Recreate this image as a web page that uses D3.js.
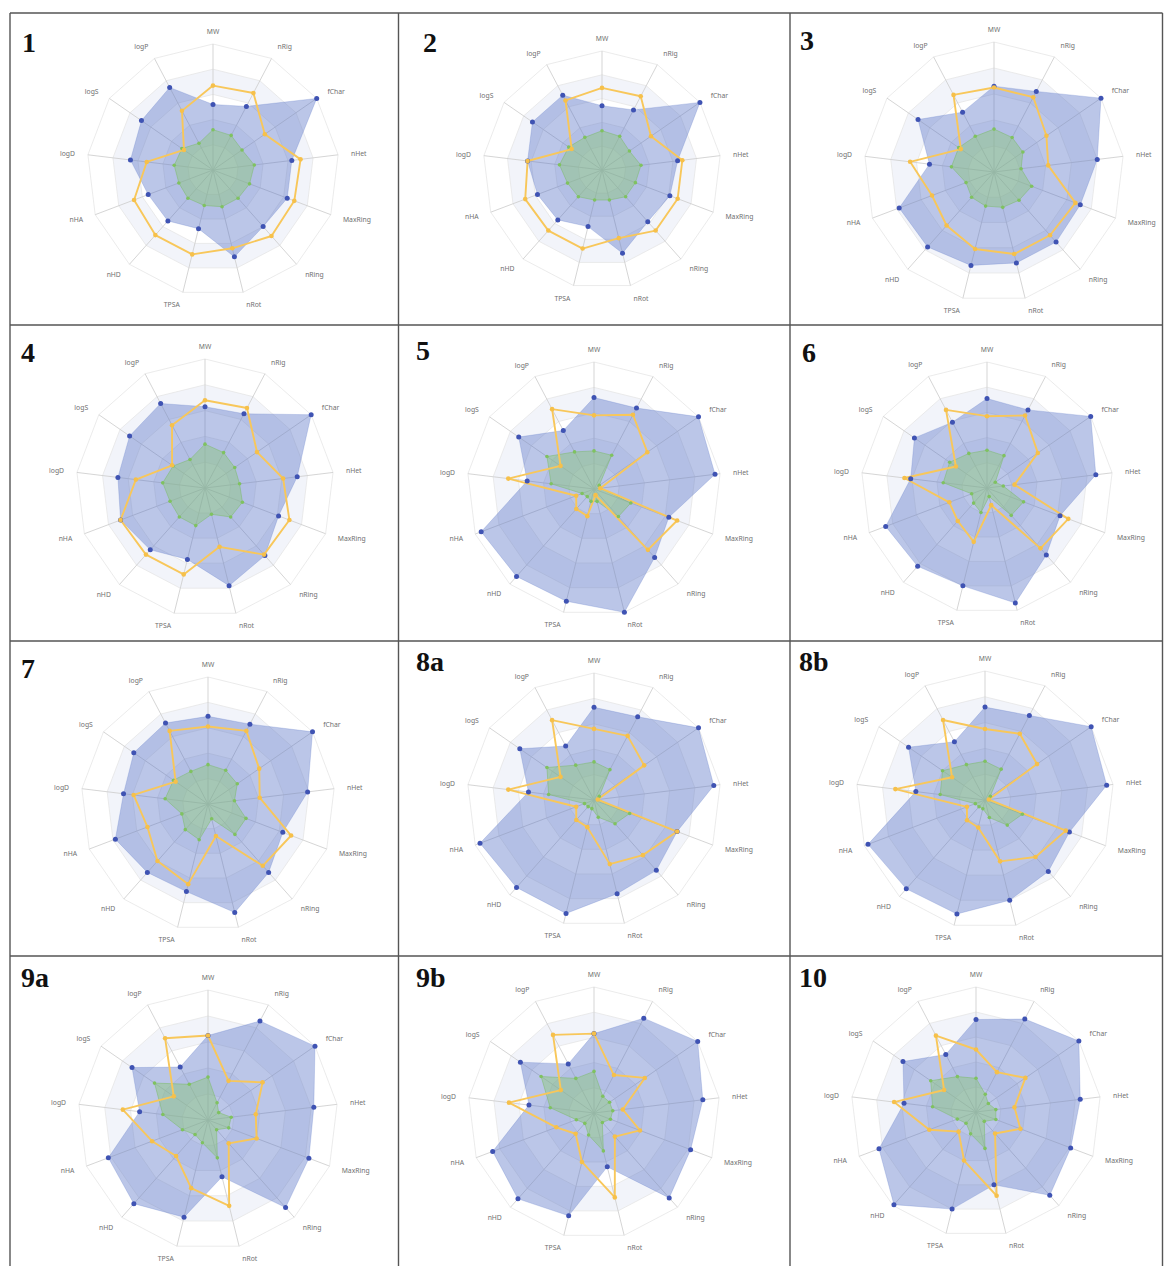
<!DOCTYPE html>
<html><head><meta charset="utf-8">
<script src="https://cdn.jsdelivr.net/npm/d3@7"></script>
<style>body{margin:0;background:#fff}</style>
</head><body>
<svg id="c" width="1164" height="1266"></svg>
<script>
const axes = ["MW","nRig","fChar","nHet","MaxRing","nRing","nRot","TPSA","nHD","nHA","logD","logS","logP"];
const panelIds = ["1","2","3","4","5","6","7","8a","8b","9a","9b","10"];

// compound values (blue), normalised 0..1
const compound = [
  [0.52,0.57,1.00,0.63,0.63,0.60,0.71,0.48,0.54,0.55,0.66,0.69,0.74],
  [0.54,0.57,1.00,0.64,0.61,0.58,0.72,0.49,0.56,0.58,0.63,0.71,0.71],
  [0.66,0.70,1.00,0.80,0.71,0.72,0.72,0.74,0.77,0.78,0.50,0.71,0.52],
  [0.63,0.65,1.00,0.72,0.61,0.70,0.78,0.57,0.64,0.70,0.68,0.71,0.74],
  [0.72,0.72,1.00,0.96,0.63,0.72,1.00,0.91,0.92,0.95,0.53,0.72,0.52],
  [0.71,0.70,1.00,0.87,0.62,0.71,0.94,0.80,0.83,0.86,0.61,0.70,0.59],
  [0.69,0.71,1.00,0.79,0.63,0.72,0.88,0.71,0.72,0.78,0.67,0.71,0.72],
  [0.73,0.74,1.00,0.95,0.70,0.74,0.76,0.92,0.92,0.96,0.52,0.71,0.48],
  [0.72,0.74,1.00,0.95,0.70,0.74,0.80,0.91,0.92,0.97,0.54,0.72,0.51],
  [0.65,0.86,1.00,0.82,0.83,0.90,0.45,0.77,0.86,0.82,0.53,0.71,0.46],
  [0.63,0.85,1.00,0.87,0.82,0.90,0.44,0.84,0.91,0.86,0.52,0.71,0.44],
  [0.74,0.84,1.00,0.84,0.81,0.89,0.60,0.80,0.99,0.83,0.58,0.71,0.52]
];
// upper limit (orange line)
const upperLimit = [
  [0.67,0.69,0.50,0.70,0.69,0.70,0.64,0.69,0.69,0.67,0.53,0.28,0.53],
  [0.69,0.70,0.50,0.68,0.68,0.68,0.59,0.68,0.68,0.69,0.63,0.31,0.66],
  [0.65,0.65,0.49,0.42,0.67,0.65,0.65,0.61,0.55,0.51,0.65,0.31,0.67],
  [0.68,0.70,0.49,0.61,0.70,0.69,0.47,0.69,0.69,0.70,0.54,0.31,0.55],
  [0.58,0.66,0.51,0.05,0.70,0.64,0.05,0.22,0.21,0.15,0.68,0.32,0.71],
  [0.57,0.65,0.49,0.22,0.69,0.64,0.14,0.44,0.35,0.32,0.66,0.30,0.70],
  [0.61,0.65,0.49,0.41,0.70,0.65,0.26,0.65,0.60,0.51,0.59,0.31,0.65],
  [0.56,0.57,0.48,0.03,0.70,0.58,0.52,0.22,0.21,0.15,0.68,0.32,0.71],
  [0.55,0.58,0.49,0.03,0.67,0.59,0.49,0.22,0.21,0.15,0.70,0.31,0.70],
  [0.65,0.34,0.51,0.37,0.40,0.24,0.68,0.54,0.37,0.46,0.66,0.32,0.71],
  [0.63,0.34,0.49,0.23,0.39,0.25,0.69,0.40,0.22,0.32,0.68,0.32,0.70],
  [0.50,0.36,0.48,0.31,0.38,0.23,0.69,0.40,0.21,0.40,0.66,0.31,0.69]
];
// lower limit (green area)
const lowerLimit = [
  [0.32,0.31,0.28,0.33,0.31,0.30,0.30,0.29,0.30,0.29,0.31,0.30,0.24],
  [0.33,0.32,0.28,0.33,0.30,0.30,0.26,0.26,0.30,0.31,0.36,0.34,0.31],
  [0.33,0.30,0.27,0.21,0.31,0.29,0.28,0.27,0.26,0.23,0.33,0.33,0.31],
  [0.34,0.31,0.28,0.27,0.31,0.30,0.21,0.30,0.30,0.29,0.33,0.30,0.25],
  [0.30,0.30,0.05,0.05,0.31,0.29,0.10,0.10,0.08,0.10,0.34,0.45,0.33],
  [0.30,0.29,0.08,0.13,0.31,0.29,0.07,0.20,0.16,0.13,0.35,0.36,0.31],
  [0.31,0.30,0.28,0.21,0.32,0.32,0.12,0.29,0.27,0.22,0.34,0.33,0.29],
  [0.30,0.27,0.05,0.03,0.30,0.25,0.14,0.07,0.07,0.08,0.36,0.45,0.31],
  [0.30,0.27,0.05,0.03,0.31,0.26,0.14,0.07,0.07,0.08,0.35,0.40,0.31],
  [0.33,0.15,0.10,0.18,0.17,0.10,0.30,0.18,0.15,0.21,0.35,0.50,0.31],
  [0.33,0.15,0.15,0.15,0.14,0.10,0.31,0.18,0.11,0.15,0.35,0.51,0.31],
  [0.27,0.16,0.12,0.16,0.17,0.10,0.30,0.18,0.12,0.16,0.35,0.44,0.32]
];
const ringLevels = [1, 0.8, 0.6, 0.4, 0.2];

// layout (positions only)
const layout = [
  {cx:213,cy:170,r:126,lx:22,ly:52},
  {cx:602,cy:170,r:119,lx:423,ly:52},
  {cx:994,cy:172,r:130,lx:800,ly:50},
  {cx:205,cy:488,r:129,lx:21,ly:362},
  {cx:594,cy:489,r:127,lx:416,ly:360},
  {cx:987,cy:488,r:126,lx:802,ly:362},
  {cx:208,cy:804,r:127,lx:21,ly:678},
  {cx:594,cy:800,r:127,lx:416,ly:671},
  {cx:985,cy:800,r:129,lx:799,ly:671},
  {cx:208,cy:1120,r:130,lx:21,ly:987},
  {cx:594,cy:1113,r:126,lx:416,ly:987},
  {cx:976,cy:1112,r:125,lx:799,ly:987}
];

const svg = d3.select("#c");
svg.append("rect").attr("width",1164).attr("height",1266).attr("fill","#fff");

const angle = d3.scaleLinear().domain([0, axes.length]).range([0, 2*Math.PI]);

panelIds.forEach((id, p) => {
  const L = layout[p];
  const g = svg.append("g").attr("transform", `translate(${L.cx},${L.cy})`);
  const r = d3.scaleLinear().domain([0,1]).range([0, L.r]);
  const radial = d3.lineRadial()
    .angle((d,i) => angle(i))
    .radius(d => r(d))
    .curve(d3.curveLinearClosed);
  const pt = (v,i) => [r(v)*Math.sin(angle(i)), -r(v)*Math.cos(angle(i))];

  ringLevels.forEach((lv, k) => {
    g.append("path")
      .attr("d", radial(axes.map(() => lv)))
      .attr("fill", k % 2 === 0 ? "#ffffff" : "#f2f4fa")
      .attr("stroke", "#e6e6e6")
      .attr("stroke-width", 0.8);
  });
  axes.forEach((a,i) => {
    const [x,y] = pt(1,i);
    g.append("line").attr("x1",0).attr("y1",0).attr("x2",x).attr("y2",y)
      .attr("stroke","#d0d0d0").attr("stroke-width",0.9);
  });
  axes.forEach((a,i) => {
    const ang = angle(i);
    const s = Math.sin(ang), c = -Math.cos(ang);
    const d = L.r + 13;
    g.append("text")
      .attr("x", d*s).attr("y", d*c)
      .attr("text-anchor", Math.abs(s) < 0.05 ? "middle" : (s > 0 ? "start" : "end"))
      .attr("dominant-baseline","central")
      .attr("font-family","'Noto Sans', 'DejaVu Sans', sans-serif")
      .attr("font-size", 6.8)
      .attr("fill","#707070")
      .text(a);
  });

  g.append("path").attr("d", radial(compound[p]))
    .attr("fill","rgba(84,112,198,0.40)")
    .attr("stroke","rgba(84,112,198,0.3)").attr("stroke-width",0.8);
  g.append("path").attr("d", radial(lowerLimit[p]))
    .attr("fill","rgba(140,200,120,0.45)")
    .attr("stroke","rgba(120,185,100,0.6)").attr("stroke-width",0.8);
  g.append("path").attr("d", radial(upperLimit[p]))
    .attr("fill","none").attr("stroke","#f8c75a").attr("stroke-width",1.9)
    .attr("stroke-linejoin","round");

  compound[p].forEach((v,i) => {
    const [x,y] = pt(v,i);
    g.append("circle").attr("cx",x).attr("cy",y).attr("r",2.5).attr("fill","#3f53b3");
  });
  lowerLimit[p].forEach((v,i) => {
    const [x,y] = pt(v,i);
    g.append("circle").attr("cx",x).attr("cy",y).attr("r",1.8).attr("fill","#7fc260");
  });
  upperLimit[p].forEach((v,i) => {
    const [x,y] = pt(v,i);
    g.append("circle").attr("cx",x).attr("cy",y).attr("r",2.3).attr("fill","#f6c04a");
  });

  svg.append("text")
    .attr("x", L.lx).attr("y", L.ly)
    .attr("font-family","'Liberation Serif', 'Times New Roman', serif")
    .attr("font-weight","bold")
    .attr("font-size", 28)
    .attr("fill","#111")
    .text(id);
});

const frameX = [10, 398.5, 790, 1162.5];
const frameY = [13, 325, 641, 956, 1272];
const fg = svg.append("g").attr("stroke","#555").attr("stroke-width",1.4);
frameX.forEach(x => fg.append("line").attr("x1",x).attr("x2",x).attr("y1",frameY[0]).attr("y2",frameY[frameY.length-1]));
frameY.forEach(y => fg.append("line").attr("x1",frameX[0]).attr("x2",frameX[frameX.length-1]).attr("y1",y).attr("y2",y));
</script>
</body></html>
